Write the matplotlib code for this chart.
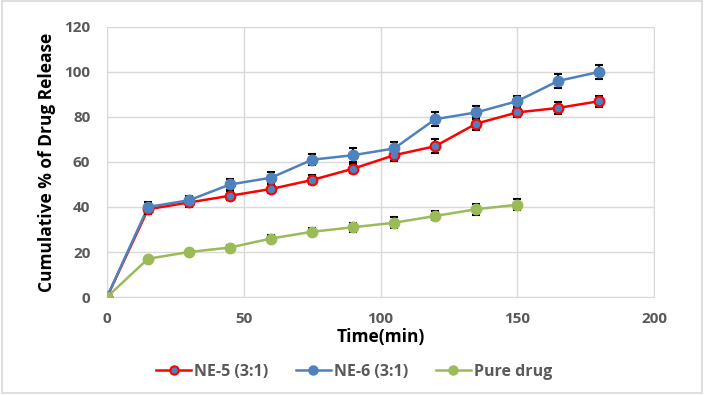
import matplotlib
matplotlib.use("Agg")
import matplotlib.pyplot as plt
from matplotlib.lines import Line2D
from matplotlib.patches import Rectangle

time_ne = [0, 15, 30, 45, 60, 75, 90, 105, 120, 135, 150, 165, 180]
ne5 = [0, 39, 42, 45, 48, 52, 57, 63, 67, 77, 82, 84, 87]
ne5_err = [0, 2, 2, 2, 2, 2, 2, 2.5, 3, 3, 2, 2.5, 2.5]
ne6 = [0, 40, 43, 50, 53, 61, 63, 66, 79, 82, 87, 96, 100]
ne6_err = [0, 2, 2, 2.5, 2.5, 2.5, 3, 3, 3, 3, 2.5, 3, 3]
time_pure = [0, 15, 30, 45, 60, 75, 90, 105, 120, 135, 150]
pure = [0, 17, 20, 22, 26, 29, 31, 33, 36, 39, 41]
pure_err = [0, 0.8, 1, 1.2, 1.5, 1.5, 2, 2.5, 2, 2.5, 2.5]

plt.rcParams['font.family'] = ['Open Sans', 'DejaVu Sans']

fig = plt.figure(figsize=(7.04, 3.95), dpi=100)
fig.patches.append(Rectangle((0.003, 0.004), 0.994, 0.993, transform=fig.transFigure,
                             fill=False, edgecolor='#d9d9d9', lw=1.2, zorder=0))
ax = fig.add_axes([0.152, 0.248, 0.777, 0.684])

series = [
    (time_ne, ne5, ne5_err, '#ff0000', '#4f81bd', '#ff0000', 'NE-5 (3:1)'),
    (time_ne, ne6, ne6_err, '#4f81bd', '#4f81bd', '#4f81bd', 'NE-6 (3:1)'),
    (time_pure, pure, pure_err, '#9bbb59', '#9bbb59', '#9bbb59', 'Pure drug'),
]
handles = []
for x, y, e, lc, fc, ec, lab in series:
    ax.plot(x, y, color=lc, lw=1.8, zorder=3)
    xe = [xi for xi, ei in zip(x, e) if ei > 0]
    ye = [yi for yi, ei in zip(y, e) if ei > 0]
    ee = [ei for ei in e if ei > 0]
    ax.errorbar(xe, ye, yerr=ee, fmt='none', ecolor='black', elinewidth=1.5,
                capsize=3, capthick=1.5, zorder=4)
    ax.plot(x, y, ls='none', marker='o', ms=7, mfc=fc, mec=ec, mew=1.5, zorder=5)
    handles.append(Line2D([], [], color=lc, lw=1.8, marker='o', ms=6, mfc=fc, mec=ec,
                          mew=1.5, label=lab))

ax.set_xlim(0, 200)
ax.set_ylim(0, 120)
ax.set_xticks([0, 50, 100, 150, 200])
ax.set_yticks(range(0, 121, 20))
ax.grid(True, color='#d9d9d9', lw=1)
ax.set_axisbelow(True)
for s in ax.spines.values():
    s.set_color('#d9d9d9')
ax.tick_params(length=0, labelsize=11, labelcolor='#595959')
ax.tick_params(axis='y', pad=12)
ax.tick_params(axis='x', pad=11)
for lab in ax.get_xticklabels() + ax.get_yticklabels():
    lab.set_fontweight('bold')
ax.set_xlabel('Time(min)', fontsize=12.5, fontweight='bold', labelpad=1)
ax.set_ylabel('Cumulative % of Drug Release', fontsize=12.5, fontweight='bold', labelpad=6)

leg = fig.legend(handles=handles, loc='center', bbox_to_anchor=(0.503, 0.058), ncol=3,
                 frameon=False, fontsize=11.5, handlelength=2.2, columnspacing=1.7,
                 handletextpad=0.2)
for t in leg.get_texts():
    t.set_fontweight('bold')
    t.set_color('#595959')

fig.savefig('out.png', dpi=100)
